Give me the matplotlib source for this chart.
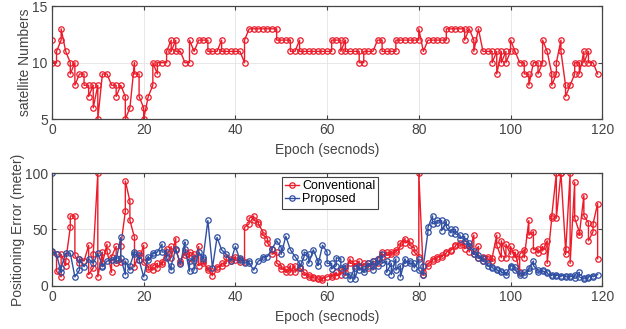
import matplotlib
matplotlib.use("Agg")
import matplotlib.pyplot as plt

# ---------------------------------------------------------------------
# Data (one list per epoch, values in drawing order)
# ---------------------------------------------------------------------
sat_numbers = [
    [12, 10], [10, 11], [12, 13], [11], [10, 9], [10, 8], [9], [9, 8], [8, 7], [8, 6],
    [8, 5], [9], [9], [8], [8, 7], [8], [7, 5], [6], [10, 9], [9, 7],
    [6, 5], [7], [8, 10], [9, 10], [10], [10, 11], [12, 11], [12, 11], [11], [10],
    [10, 12], [11], [12], [12], [12, 11], [11], [11], [12, 11], [11], [11],
    [11], [11], [10, 12], [13], [13], [13], [13], [13], [13], [13, 12],
    [12], [12], [12, 11], [11], [12, 11], [11], [11], [11], [11], [11],
    [11], [11, 12], [12], [12, 11], [12, 11], [11], [11], [11, 10], [10, 11], [11],
    [11], [12], [12, 11], [11], [11], [11, 12], [12], [12], [12], [12],
    [12, 13], [11], [12], [12], [12], [12], [12, 13], [13], [13], [13],
    [13, 12], [13], [12, 11], [13], [11], [11], [11, 10], [11, 9], [11, 10], [11, 10],
    [11, 12], [11], [10], [10, 9], [9, 8], [10], [10, 9], [10, 12], [11], [9, 8],
    [9, 10], [12, 11], [8, 7], [8], [9, 10], [10, 9], [11, 10], [11, 10], [10], [9],
]

conventional_error = [
    [30], [28, 13], [8, 28], [18, 22], [52, 62], [62, 27], [20, 24], [22], [36, 10], [16, 28],
    [100, 8], [30, 20], [37, 31], [12, 26], [35, 20], [21, 35], [66, 93], [75, 58], [43, 17], [29, 23],
    [36, 21], [17, 15], [14, 18], [20, 16], [21, 19], [33, 26], [35, 25], [42, 32], [20, 22], [30, 27],
    [25, 30], [28, 22], [35, 18], [20, 22], [14, 16], [9, 13], [15, 17], [18, 20], [20, 26], [24, 22],
    [26, 23], [21, 24], [21, 52], [55, 60], [62, 58], [57, 55], [48, 45], [42, 38], [33, 28], [30, 20],
    [18, 15], [15, 12], [18, 12], [18, 12], [17, 16], [12, 10], [10, 8], [8, 7], [7, 6], [5, 7],
    [8], [10, 8], [12, 9], [10, 14], [16, 12], [24, 20], [20, 18], [22, 18], [18, 20], [16, 20],
    [18, 22], [20, 24], [30, 26], [30, 27], [30, 28], [32, 30], [35, 38], [42, 38], [40, 36], [34, 30],
    [26, 100], [10, 12], [18, 20], [22, 24], [24, 26], [27, 26], [29, 30], [31, 32], [35, 36], [38, 36],
    [38, 33], [35, 30], [45, 28], [35, 25], [22, 26], [26, 24], [22, 25], [45, 36], [25, 40], [25, 37],
    [28, 35], [25, 30], [12, 28], [32, 25], [58, 45], [48, 32], [33, 29], [35, 31], [40, 20], [60, 62],
    [100, 60], [100, 100], [33, 28], [100, 20], [92, 60], [48, 45], [80, 62], [56, 40], [48, 55], [73, 24],
]

proposed_error = [
    [100, 31], [28], [12, 16], [29], [29], [8], [14, 24], [17], [24], [20],
    [29], [18, 17], [22], [23], [25, 23], [43, 25], [10, 22], [14, 18], [30, 28], [27, 23],
    [8], [26, 23], [27, 29], [30], [37, 30], [30, 25], [14, 18], [33], [19], [39, 33],
    [13, 22], [25, 14], [30], [24, 26], [58], [16], [43], [32], [28], [22],
    [35], [23, 25], [20], [22, 20], [14], [22], [24, 26], [26], [33], [40],
    [34, 28], [44], [32], [26], [20, 16], [26, 30], [28, 20], [32], [22, 18], [36],
    [30, 20], [20, 15], [18, 25], [24, 16], [18, 10], [10, 6], [16, 6], [18, 14], [15, 12], [20, 18],
    [22, 14], [24, 18], [28, 20], [22, 12], [20, 10], [24, 14], [18, 8], [24, 20], [22, 20], [20, 16],
    [24, 14], [10, 18], [48, 52], [62, 55], [56, 58], [58, 49], [57, 52], [47, 50], [50, 46], [45, 42],
    [44, 40], [38, 35], [31, 28], [27, 25], [25, 22], [20, 18], [17, 16], [15, 14], [13, 12], [12, 10],
    [17, 18], [17, 14], [10, 11], [10, 12], [13, 16], [22, 18], [14, 12], [14, 13], [12, 11], [9, 10],
    [9, 10], [8, 9], [9, 8], [8, 9], [7, 10], [12, 8], [6, 7], [7, 8], [9, 8], [10],
]


def flatten(per_epoch):
    xs, ys = [], []
    for epoch, values in enumerate(per_epoch):
        for v in values:
            xs.append(epoch)
            ys.append(v)
    return xs, ys


red = "#ec1c2a"
blue = "#2f4fa3"
dark = "#444444"

plt.rcParams["font.family"] = ["Liberation Sans", "DejaVu Sans"]
plt.rcParams["font.size"] = 10

fig = plt.figure(figsize=(6.26, 3.29), dpi=100)
ax1 = fig.add_axes([0.083, 0.638, 0.879, 0.343])
ax2 = fig.add_axes([0.083, 0.131, 0.879, 0.343])

line_style = dict(marker="o", markersize=3.9, markerfacecolor="none",
                  markeredgewidth=0.9, linewidth=1.0)

# ---------------------------------------------------------------------
# Satellite numbers
# ---------------------------------------------------------------------
x, y = flatten(sat_numbers)
ax1.plot(x, y, color=red, **line_style)
ax1.set_ylim(5, 15)
ax1.set_yticks([5, 10, 15])
ax1.set_ylabel("satellite Numbers", color=dark, labelpad=0)

# ---------------------------------------------------------------------
# Positioning error
# ---------------------------------------------------------------------
x, y = flatten(conventional_error)
ax2.plot(x, y, color=red, label="Conventional", **line_style)
x, y = flatten(proposed_error)
ax2.plot(x, y, color=blue, label="Proposed", **line_style)
ax2.set_ylim(0, 100)
ax2.set_yticks([0, 50, 100])
ax2.set_ylabel("Positioning Error (meter)", color=dark, labelpad=0)

leg = ax2.legend(loc="upper left", bbox_to_anchor=(0.418, 0.965),
                 fancybox=False, framealpha=1, edgecolor=dark,
                 borderpad=0.25, labelspacing=0.1, handlelength=1.1,
                 handletextpad=0.25, borderaxespad=0, fontsize=9)
leg.get_frame().set_linewidth(0.8)

for ax in (ax1, ax2):
    ax.set_xlim(0, 120)
    ax.set_xticks(range(0, 121, 20))
    ax.set_xlabel("Epoch (secnods)", color=dark, labelpad=4)
    ax.grid(True, color="#e4e4e4", linewidth=0.6)
    ax.set_axisbelow(True)
    ax.tick_params(direction="in", top=True, right=True, colors=dark,
                   length=3, width=0.8, labelsize=10, pad=3)
    for spine in ax.spines.values():
        spine.set_color(dark)
        spine.set_linewidth(0.9)

fig.savefig("out.png", dpi=100)
